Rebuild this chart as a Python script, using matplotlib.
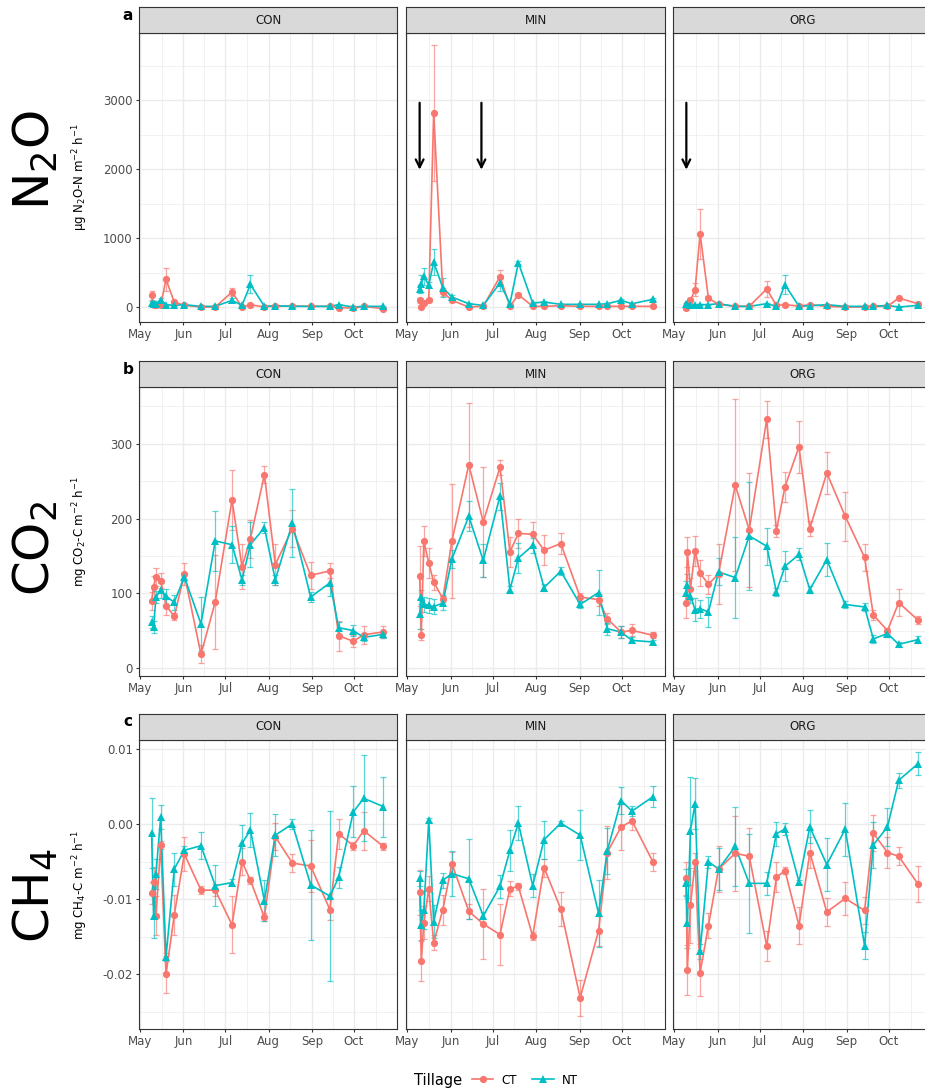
import numpy as np
import matplotlib.pyplot as plt
import matplotlib.dates as mdates
from matplotlib.lines import Line2D

plt.rcParams["axes.unicode_minus"] = False
plt.rcParams["font.family"] = "DejaVu Sans"

# sampling days after 1 May, per cropping system
days_con = [8.3, 9.7, 11.4, 14.8, 18.6, 24.5, 31.7, 43.6, 53.8, 65.8, 72.9, 78.9, 88.9, 96.7, 108.9, 122.0, 135.8, 142.0, 152.5, 159.9, 174.0]
days_min = [9.0, 10.2, 12.0, 15.5, 19.0, 25.5, 32.0, 44.0, 54.3, 66.2, 73.3, 79.3, 89.5, 97.6, 109.5, 123.3, 136.4, 142.6, 152.4, 160.2, 175.0]
days_org = [8.6, 9.5, 11.7, 15.0, 18.6, 24.5, 31.7, 43.6, 53.6, 66.0, 72.9, 79.0, 89.0, 96.7, 108.8, 121.9, 135.7, 141.9, 152.0, 160.0, 173.8]

# N2O flux, ug N2O-N m-2 h-1 (mean and standard error)
n2o_con_ct = [169, 24, 24, 24, 401, 72, 24, 0, 0, 217, 0, 34, 0, 14, 14, 10, 10, -10, -14, 10, -24]
n2o_con_ct_se = [70, 15, 15, 20, 170, 30, 10, 5, 5, 55, 5, 15, 5, 10, 10, 5, 5, 5, 5, 10, 10]
n2o_con_nt = [58, 39, 48, 106, 34, 24, 34, 10, 10, 97, 24, 328, 10, 19, 10, 10, 10, 34, 0, 10, 10]
n2o_con_nt_se = [30, 20, 20, 30, 15, 10, 10, 5, 5, 30, 5, 130, 5, 10, 5, 5, 5, 10, 5, 5, 10]
n2o_min_ct = [97, 0, 60, 106, 2812, 217, 97, 0, 10, 440, 10, 179, 10, 10, 19, 10, 10, 10, 10, 10, 10]
n2o_min_ct_se = [40, 10, 20, 30, 980, 60, 20, 5, 5, 100, 5, 20, 5, 5, 10, 5, 5, 5, 5, 5, 5]
n2o_min_nt = [266, 338, 444, 320, 650, 280, 145, 48, 24, 348, 48, 642, 58, 72, 39, 39, 39, 48, 97, 48, 111]
n2o_min_nt_se = [60, 120, 120, 40, 190, 140, 30, 10, 5, 120, 10, 20, 10, 10, 10, 10, 10, 10, 15, 10, 15]
n2o_org_ct = [-10, 40, 97, 251, 1063, 130, 39, 10, 10, 261, 24, 34, 14, 34, 10, 0, 0, 10, 10, 130, 48]
n2o_org_ct_se = [10, 20, 40, 90, 360, 30, 10, 5, 5, 120, 5, 10, 5, 10, 5, 5, 5, 5, 5, 15, 10]
n2o_org_nt = [39, 48, 24, 34, 34, 34, 48, 10, 10, 48, 10, 324, 10, 19, 34, 10, 10, 10, 24, 0, 24]
n2o_org_nt_se = [15, 15, 10, 10, 10, 10, 10, 5, 5, 15, 5, 135, 5, 5, 10, 5, 5, 5, 5, 5, 5]

# CO2 flux, mg CO2-C m-2 h-1
co2_con_ct = [89.7, 108.5, 121.9, 116.5, 83.5, 69.2, 125.4, 18.3, 88.4, 225.0, 135.3, 172.8, 258.9, 138.4, 186.6, 124.1, 129.9, 43.3, 35.7, 44.6, 48.2]
co2_con_ct_se = [12, 15, 12, 10, 12, 5, 15, 12, 63, 40, 30, 25, 12, 28, 25, 18, 10, 20, 8, 12, 8]
co2_con_nt = [61, 55, 95, 104, 96, 88, 122, 59, 170, 165, 118, 165, 188, 118, 194, 95, 114, 54, 50, 41, 45]
co2_con_nt_se = [8, 8, 8, 10, 10, 10, 5, 36, 40, 25, 7, 30, 8, 7, 45, 7, 18, 8, 7, 5, 5]
co2_min_ct = [123, 44.6, 170, 140.6, 115, 92.9, 170, 272, 195.5, 268.8, 155.4, 180, 179, 157.6, 166.5, 95, 91.5, 66, 48, 50.4, 43.8]
co2_min_ct_se = [40, 7, 20, 20, 10, 5, 76, 83, 74, 10, 20, 20, 16, 20, 14, 5, 8, 7, 8, 8, 4]
co2_min_nt = [72, 95, 85, 84, 82, 87, 146, 203, 144, 230, 105, 147, 164, 107.6, 129.5, 85, 101, 52.7, 48, 37, 34.8]
co2_min_nt_se = [20, 10, 10, 10, 10, 10, 12, 20, 22, 18, 5, 20, 10, 5, 5, 5, 30, 8, 8, 4, 3]
co2_org_ct = [87.5, 155.4, 106, 156.7, 127, 112, 125.9, 244.6, 184.8, 332.6, 183.9, 242.4, 296, 186.6, 261, 203, 148, 71, 50, 87.5, 64]
co2_org_ct_se = [20, 20, 15, 20, 17, 13, 40, 115, 76, 25, 8, 20, 35, 10, 28, 33, 18, 7, 4, 18, 5]
co2_org_nt = [101, 110.7, 97, 78, 79.5, 75, 128.6, 121, 176.8, 163, 101.8, 136, 152, 105, 145, 85, 81.7, 39, 46, 31.7, 38]
co2_org_nt_se = [15, 15, 10, 15, 12, 20, 18, 54, 72, 25, 5, 20, 8, 5, 22, 5, 5, 5, 5, 3, 5]

# CH4 flux, mg CH4-C m-2 h-1
ch4_con_ct = [-0.0092, -0.0077, -0.0122, -0.0028, -0.0200, -0.0121, -0.0040, -0.0088, -0.0088, -0.0134, -0.0050, -0.0075, -0.0124, -0.0017, -0.0052, -0.0056, -0.0114, -0.0013, -0.0029, -0.0009, -0.0030]
ch4_con_ct_se = [0.0015, 0.0020, 0.0026, 0.0005, 0.0025, 0.0027, 0.0022, 0.0005, 0.0008, 0.0038, 0.0018, 0.0005, 0.0005, 0.0018, 0.0012, 0.0035, 0.0014, 0.0020, 0.0005, 0.0025, 0.0005]
ch4_con_nt = [-0.0012, -0.0122, -0.0066, 0.0009, -0.0177, -0.0060, -0.0035, -0.0029, -0.0082, -0.0078, -0.0026, -0.0008, -0.0102, -0.0015, 0.0000, -0.0081, -0.0096, -0.0071, 0.0016, 0.0034, 0.0023]
ch4_con_nt_se = [0.0047, 0.0030, 0.0020, 0.0016, 0.0005, 0.0022, 0.0005, 0.0018, 0.0027, 0.0005, 0.0024, 0.0023, 0.0027, 0.0028, 0.0007, 0.0073, 0.0113, 0.0014, 0.0034, 0.0057, 0.0040]
ch4_min_ct = [-0.0091, -0.0182, -0.0131, -0.0086, -0.0158, -0.0114, -0.0053, -0.0116, -0.0133, -0.0147, -0.0086, -0.0083, -0.0149, -0.0058, -0.0113, -0.0231, -0.0142, -0.0038, -0.0004, 0.0004, -0.0050]
ch4_min_ct_se = [0.0030, 0.0027, 0.0022, 0.0017, 0.0010, 0.0020, 0.0016, 0.0010, 0.0046, 0.0040, 0.0010, 0.0005, 0.0005, 0.0012, 0.0022, 0.0024, 0.0020, 0.0035, 0.0031, 0.0012, 0.0012]
ch4_min_nt = [-0.0072, -0.0134, -0.0114, 0.0005, -0.0130, -0.0075, -0.0066, -0.0073, -0.0122, -0.0083, -0.0035, 0.0001, -0.0082, -0.0021, 0.0001, -0.0015, -0.0119, -0.0036, 0.0031, 0.0017, 0.0036]
ch4_min_nt_se = [0.0010, 0.0020, 0.0025, 0.0003, 0.0022, 0.0010, 0.0030, 0.0053, 0.0005, 0.0015, 0.0027, 0.0023, 0.0015, 0.0025, 0.0003, 0.0033, 0.0045, 0.0030, 0.0018, 0.0007, 0.0014]
ch4_org_ct = [-0.0072, -0.0194, -0.0108, -0.0051, -0.0198, -0.0135, -0.0060, -0.0039, -0.0043, -0.0162, -0.0071, -0.0062, -0.0135, -0.0038, -0.0117, -0.0099, -0.0115, -0.0012, -0.0038, -0.0043, -0.0080]
ch4_org_ct_se = [0.0022, 0.0033, 0.0050, 0.0012, 0.0030, 0.0016, 0.0030, 0.0050, 0.0038, 0.0020, 0.0020, 0.0005, 0.0024, 0.0020, 0.0018, 0.0022, 0.0018, 0.0024, 0.0021, 0.0012, 0.0024]
ch4_org_nt = [-0.0078, -0.0132, -0.0009, 0.0027, -0.0169, -0.0050, -0.0060, -0.0030, -0.0079, -0.0079, -0.0013, -0.0007, -0.0077, -0.0004, -0.0054, -0.0007, -0.0162, -0.0028, -0.0004, 0.0058, 0.0080]
ch4_org_nt_se = [0.0018, 0.0033, 0.0072, 0.0034, 0.0010, 0.0008, 0.0028, 0.0052, 0.0066, 0.0015, 0.0016, 0.0008, 0.0003, 0.0022, 0.0035, 0.0035, 0.0018, 0.0030, 0.0025, 0.0010, 0.0015]

systems = ["CON", "MIN", "ORG"]
tillages = ["CT", "NT"]
days = {"CON": days_con, "MIN": days_min, "ORG": days_org}
flux = {
    "n2o": {"CON": (n2o_con_ct, n2o_con_ct_se, n2o_con_nt, n2o_con_nt_se),
            "MIN": (n2o_min_ct, n2o_min_ct_se, n2o_min_nt, n2o_min_nt_se),
            "ORG": (n2o_org_ct, n2o_org_ct_se, n2o_org_nt, n2o_org_nt_se)},
    "co2": {"CON": (co2_con_ct, co2_con_ct_se, co2_con_nt, co2_con_nt_se),
            "MIN": (co2_min_ct, co2_min_ct_se, co2_min_nt, co2_min_nt_se),
            "ORG": (co2_org_ct, co2_org_ct_se, co2_org_nt, co2_org_nt_se)},
    "ch4": {"CON": (ch4_con_ct, ch4_con_ct_se, ch4_con_nt, ch4_con_nt_se),
            "MIN": (ch4_min_ct, ch4_min_ct_se, ch4_min_nt, ch4_min_nt_se),
            "ORG": (ch4_org_ct, ch4_org_ct_se, ch4_org_nt, ch4_org_nt_se)},
}

# fertiliser application dates (days after 1 May) marked with arrows
fert_days = {"MIN": [9.0, 53.0], "ORG": [8.8]}

start = np.datetime64("2019-05-01T00")
colors = {"CT": "#F8766D", "NT": "#00BFC4"}
markers = {"CT": "o", "NT": "^"}


def to_dates(d):
    return start + np.round(np.asarray(d) * 24).astype("timedelta64[h]")


W, H = 925, 1090
fig = plt.figure(figsize=(W / 100, H / 100), dpi=100)


def px_axes(left, top, right, bottom):
    return fig.add_axes([left / W, 1 - bottom / H, (right - left) / W, (bottom - top) / H])


cols = [(139, 397), (406, 665), (673, 932)]
rows = [
    # key, strip top, panel top, panel bottom, ylim, ticks, minor, tick labels
    ("n2o", 7, 33, 322, (-217, 3971), [0, 1000, 2000, 3000], [500, 1500, 2500, 3500],
     ["0", "1000", "2000", "3000"]),
    ("co2", 361, 387, 676, (-10.7, 376), [0, 100, 200, 300], [50, 150, 250, 350],
     ["0", "100", "200", "300"]),
    ("ch4", 714, 740, 1029, (-0.02725, 0.01115), [-0.02, -0.01, 0.0, 0.01],
     [-0.025, -0.015, -0.005, 0.005], ["-0.02", "-0.01", "0.00", "0.01"]),
]
ylabels = {
    "n2o": r"µg N$_2$O-N m$^{-2}$ h$^{-1}$",
    "co2": r"mg CO$_2$-C m$^{-2}$ h$^{-1}$",
    "ch4": r"mg CH$_4$-C m$^{-2}$ h$^{-1}$",
}
gas_names = {"n2o": r"N$_2$O", "co2": r"CO$_2$", "ch4": r"CH$_4$"}
gas_centres = {"n2o": 160, "co2": 548, "ch4": 895}
letters = {"n2o": "a", "co2": "b", "ch4": "c"}

month_ticks = to_dates([0, 31, 61, 92, 123, 153])
month_minor = to_dates([15.5, 46, 76.5, 107.5, 138, 168.5])
xlim = to_dates([-0.7, 183.7])

for key, s_top, p_top, p_bot, ylim, yt, ymin, ytl in rows:
    for ci, sysname in enumerate(systems):
        left, right = cols[ci]
        ax = px_axes(left, p_top, right, p_bot)
        ax.set_xlim(xlim)
        ax.set_ylim(ylim)
        ax.set_xticks(month_ticks)
        ax.set_xticks(month_minor, minor=True)
        ax.xaxis.set_major_formatter(mdates.DateFormatter("%b"))
        ax.set_yticks(yt)
        ax.set_yticks(ymin, minor=True)
        ax.grid(which="major", color="#EBEBEB", lw=1.0, zorder=0)
        ax.grid(which="minor", color="#EBEBEB", lw=0.5, zorder=0)
        ax.set_axisbelow(True)
        for sp in ax.spines.values():
            sp.set_color("#333333")
            sp.set_linewidth(0.8)
        ax.tick_params(which="major", length=2.5, width=0.8, color="#333333",
                       labelsize=8.5, labelcolor="#4D4D4D", pad=2)
        ax.tick_params(which="minor", length=0)
        if ci == 0:
            ax.set_yticklabels(ytl)
        else:
            ax.tick_params(axis="y", which="major", length=0, labelleft=False)

        ct, ct_se, nt, nt_se = flux[key][sysname]
        x = to_dates(days[sysname])
        series = {"CT": (ct, ct_se), "NT": (nt, nt_se)}
        for t in tillages:
            v, se = series[t]
            ax.errorbar(x, v, yerr=se, fmt="none", ecolor=colors[t], alpha=0.65,
                        elinewidth=0.9, capsize=2, capthick=0.9, zorder=2)
        for t in tillages:
            v, se = series[t]
            ax.plot(x, v, color=colors[t], lw=1.2, zorder=3)
        for t in tillages:
            v, se = series[t]
            ax.plot(x, v, ls="none", marker=markers[t], color=colors[t],
                    ms=5.2 if t == "CT" else 6, mew=0, zorder=4)

        if key == "n2o" and sysname in fert_days:
            for fd in fert_days[sysname]:
                xd = to_dates([fd])[0]
                ax.annotate("", xy=(xd, 1950), xytext=(xd, 3000),
                            arrowprops=dict(arrowstyle="->", color="black", lw=1.6,
                                            mutation_scale=14))

        strip = px_axes(left, s_top, right, p_top)
        strip.set_facecolor("#D9D9D9")
        strip.set_xticks([])
        strip.set_yticks([])
        for sp in strip.spines.values():
            sp.set_color("#333333")
            sp.set_linewidth(0.8)
        strip.text(0.5, 0.5, sysname, ha="center", va="center", fontsize=8.5,
                   color="#1A1A1A", transform=strip.transAxes)

    mid = (p_top + p_bot) / 2
    fig.text(80 / W, 1 - mid / H, ylabels[key], rotation=90, ha="center", va="center",
             fontsize=8.5)
    fig.text(35 / W, 1 - gas_centres[key] / H, gas_names[key], rotation=90,
             ha="center", va="center", fontsize=36)
    fig.text(128 / W, 1 - (s_top + 8) / H, letters[key], ha="center", va="center",
             fontsize=11, fontweight="bold")

# legend along the bottom
fig.text(438 / W, 1 - 1080 / H, "Tillage", ha="center", va="center", fontsize=10.5)
handles = [Line2D([], [], color=colors[t], marker=markers[t], lw=1.2,
                  ms=5.2 if t == "CT" else 6, mew=0) for t in tillages]
fig.legend(handles, tillages, ncol=2, loc="center left",
           bbox_to_anchor=(472 / W, 1 - 1080 / H), frameon=False, fontsize=8.5,
           handlelength=1.8, handletextpad=0.7, columnspacing=1.3,
           borderaxespad=0, borderpad=0)

fig.savefig("out.png", dpi=100)
